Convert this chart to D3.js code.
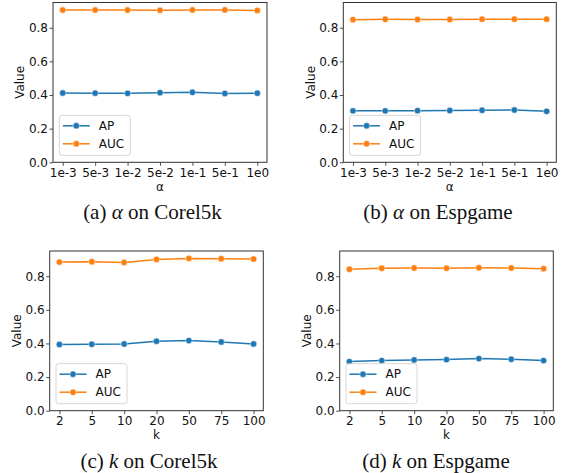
<!DOCTYPE html>
<html>
<head>
<meta charset="utf-8">
<script src="https://cdn.jsdelivr.net/npm/d3@7"></script>
<style>
  body { margin: 0; background: #fff; }
  svg { display: block; }
</style>
</head>
<body>
<div id="container"></div>
<script>
var width = 562, height = 473;

// tick labels
var alphaLabels = ["1e-3", "5e-3", "1e-2", "5e-2", "1e-1", "5e-1", "1e0"];
var kLabels = ["2", "5", "10", "20", "50", "75", "100"];
var yTicks = [0, 0.2, 0.4, 0.6, 0.8];

// values
var apAlphaCorel = [0.412, 0.411, 0.410, 0.414, 0.416, 0.409, 0.411];
var aucAlphaCorel = [0.905, 0.905, 0.905, 0.904, 0.906, 0.906, 0.903];
var apAlphaEsp = [0.306, 0.306, 0.307, 0.308, 0.309, 0.311, 0.303];
var aucAlphaEsp = [0.848, 0.850, 0.849, 0.849, 0.851, 0.851, 0.851];
var apKCorel = [0.394, 0.395, 0.397, 0.413, 0.417, 0.409, 0.397];
var aucKCorel = [0.884, 0.886, 0.882, 0.900, 0.906, 0.904, 0.902];
var apKEsp = [0.292, 0.298, 0.302, 0.304, 0.310, 0.306, 0.298];
var aucKEsp = [0.841, 0.847, 0.849, 0.848, 0.850, 0.849, 0.845];

var blue = "#1f77b4", orange = "#ff7f0e";
var fontSize = "12px";

var svg = d3.select("#container").append("svg")
    .attr("width", width)
    .attr("height", height);

function drawPanel(p) {
  var x = d3.scalePoint().domain(p.labels).range([p.left, p.right]).padding(0.3);
  var y = d3.scaleLinear().domain([0, 0.95]).range([p.bottom, p.top]);
  var g = svg.append("g");

  // axes
  var xAxis = g.append("g")
      .attr("transform", "translate(0," + p.bottom + ")")
      .call(d3.axisBottom(x).tickSizeOuter(0).tickSize(3.5));
  var yAxis = g.append("g")
      .attr("transform", "translate(" + p.left + ",0)")
      .call(d3.axisLeft(y).tickValues(yTicks).tickFormat(d3.format(".1f")).tickSizeOuter(0).tickSize(3.5));
  [xAxis, yAxis].forEach(function(a) {
    a.select(".domain").remove();
    a.selectAll("line").attr("stroke", "#222").attr("stroke-width", 0.8);
    a.selectAll("text")
      .style("font-family", "DejaVu Sans")
      .style("font-size", fontSize)
      .attr("fill", "#111");
  });
  xAxis.selectAll("text").attr("dy", "0.95em").attr("y", 3);
  yAxis.selectAll("text").attr("x", -5);

  // frame
  g.append("rect")
    .attr("x", p.left).attr("y", p.top)
    .attr("width", p.right - p.left).attr("height", p.bottom - p.top)
    .attr("fill", "none").attr("stroke", "#333").attr("stroke-width", 1);

  // lines
  var series = [{name: "AP", vals: p.ap, c: blue}, {name: "AUC", vals: p.auc, c: orange}];
  var line = d3.line()
      .x(function(d, i) { return x(p.labels[i]); })
      .y(function(d) { return y(d); });
  series.forEach(function(s) {
    g.append("path").datum(s.vals)
      .attr("d", line).attr("fill", "none")
      .attr("stroke", s.c).attr("stroke-width", 1.5);
    g.selectAll(null).data(s.vals).enter().append("circle")
      .attr("cx", function(d, i) { return x(p.labels[i]); })
      .attr("cy", function(d) { return y(d); })
      .attr("r", 3.2)
      .attr("fill", s.c).attr("stroke", "#fff").attr("stroke-width", 0.5);
  });

  // legend
  var lx = p.left + 6.3, ly = p.bottom - 47;
  g.append("rect")
    .attr("x", lx).attr("y", ly).attr("width", 71).attr("height", 40)
    .attr("rx", 2.5).attr("fill", "#fff").attr("fill-opacity", 0.8)
    .attr("stroke", "#ccc").attr("stroke-width", 0.8);
  series.forEach(function(s, i) {
    var yy = ly + 10.5 + i * 18;
    g.append("line")
      .attr("x1", lx + 3.5).attr("x2", lx + 30.5).attr("y1", yy).attr("y2", yy)
      .attr("stroke", s.c).attr("stroke-width", 1.5);
    g.append("circle").attr("cx", lx + 17).attr("cy", yy).attr("r", 3.2)
      .attr("fill", s.c).attr("stroke", "#fff").attr("stroke-width", 0.5);
    g.append("text").attr("x", lx + 39.5).attr("y", yy).attr("dy", "0.35em")
      .style("font-family", "DejaVu Sans").style("font-size", fontSize)
      .attr("fill", "#111").text(s.name);
  });

  // axis titles
  g.append("text")
    .attr("transform", "translate(" + (p.left - 33) + "," + ((p.top + p.bottom) / 2) + ") rotate(-90)")
    .attr("text-anchor", "middle").attr("dy", "0.35em")
    .style("font-family", "DejaVu Sans").style("font-size", fontSize)
    .attr("fill", "#111").text("Value");
  g.append("text")
    .attr("x", (p.left + p.right) / 2).attr("y", p.bottom + 24).attr("dy", "0.35em")
    .attr("text-anchor", "middle")
    .style("font-family", "DejaVu Sans").style("font-size", fontSize)
    .attr("fill", "#111").text(p.xTitle);

  // caption
  var cap = g.append("text")
    .attr("x", p.capX).attr("y", p.capY)
    .attr("text-anchor", "middle")
    .style("font-family", "Liberation Serif").style("font-size", "21px")
    .attr("fill", "#111");
  cap.append("tspan").text(p.cap[0] + " ");
  cap.append("tspan").style("font-style", "italic").text(p.cap[1]);
  cap.append("tspan").text(" " + p.cap[2]);
}

drawPanel({left: 53, right: 267, top: 2.5, bottom: 162.3, labels: alphaLabels, ap: apAlphaCorel, auc: aucAlphaCorel,
  xTitle: "α", cap: ["(a)", "α", "on Corel5k"], capX: 152.5, capY: 219});
drawPanel({left: 343.3, right: 556.3, top: 2.5, bottom: 162.3, labels: alphaLabels, ap: apAlphaEsp, auc: aucAlphaEsp,
  xTitle: "α", cap: ["(b)", "α", "on Espgame"], capX: 438, capY: 219});
drawPanel({left: 49.7, right: 263.3, top: 251, bottom: 410.7, labels: kLabels, ap: apKCorel, auc: aucKCorel,
  xTitle: "k", cap: ["(c)", "k", "on Corel5k"], capX: 149, capY: 468});
drawPanel({left: 339.7, right: 553.3, top: 251, bottom: 410.7, labels: kLabels, ap: apKEsp, auc: aucKEsp,
  xTitle: "k", cap: ["(d)", "k", "on Espgame"], capX: 436, capY: 468});
</script>
</body>
</html>
